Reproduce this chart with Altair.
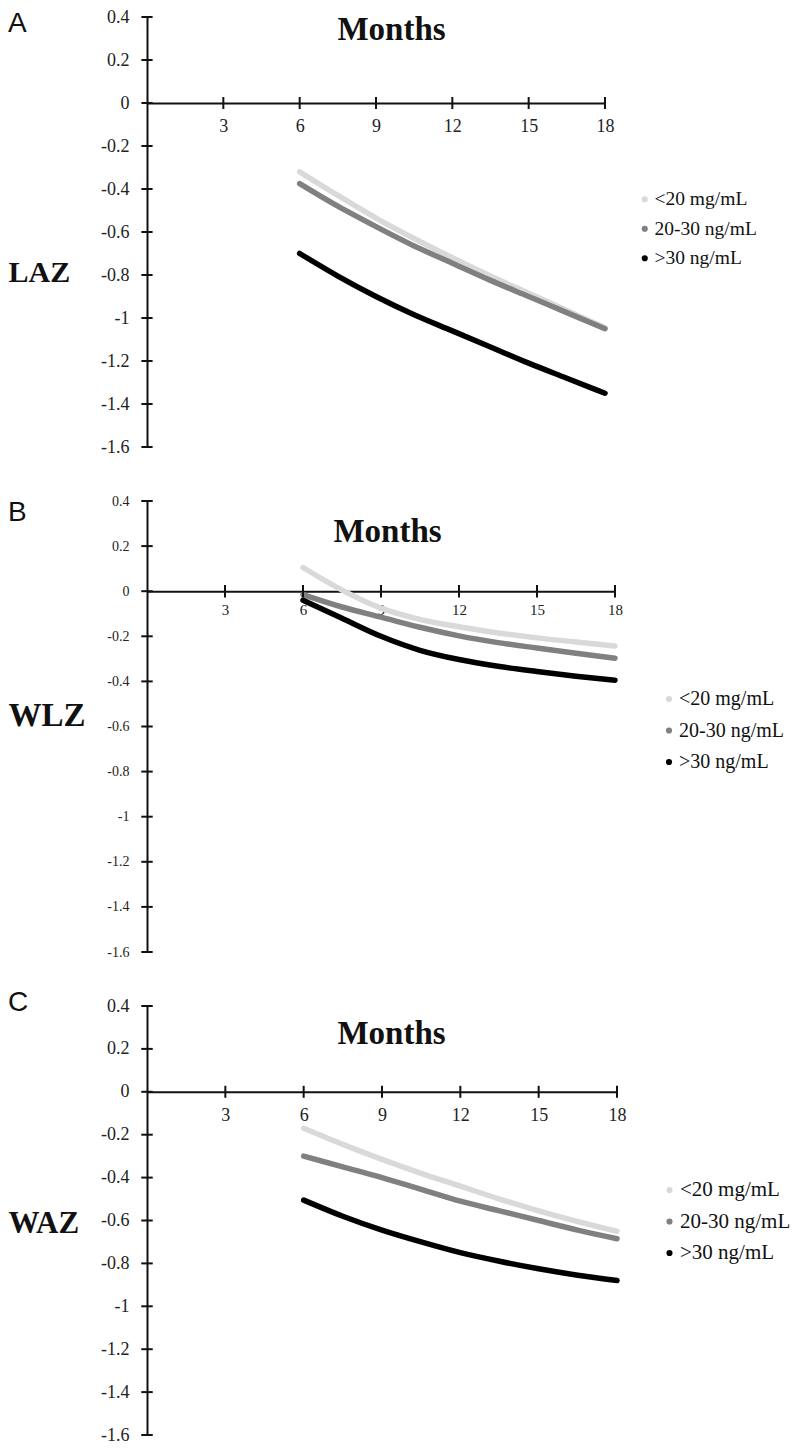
import altair as alt
import pandas as pd

SERIF = "Liberation Serif"
SANS = "Liberation Sans"

months = [6, 7.5, 9, 10.5, 12, 13.5, 15, 16.5, 18]
groups = ["<20 mg/mL", "20-30 ng/mL", ">30 ng/mL"]
colors = ["#d9d9d9", "#808080", "#000000"]
x_ticks = [3, 6, 9, 12, 15, 18]
y_ticks = [0.4, 0.2, 0, -0.2, -0.4, -0.6, -0.8, -1, -1.2, -1.4, -1.6]

# Panel A: LAZ
laz_low = [-0.32, -0.43, -0.535, -0.63, -0.72, -0.805, -0.885, -0.965, -1.045]
laz_mid = [-0.375, -0.48, -0.575, -0.665, -0.745, -0.825, -0.90, -0.975, -1.05]
laz_high = [-0.70, -0.805, -0.90, -0.985, -1.06, -1.135, -1.21, -1.28, -1.35]

# Panel B: WLZ
wlz_low = [0.105, 0.005, -0.075, -0.125, -0.158, -0.185, -0.207, -0.225, -0.243]
wlz_mid = [-0.015, -0.07, -0.115, -0.16, -0.198, -0.228, -0.252, -0.275, -0.297]
wlz_high = [-0.04, -0.12, -0.20, -0.262, -0.303, -0.333, -0.356, -0.377, -0.395]

# Panel C: WAZ
waz_low = [-0.17, -0.245, -0.315, -0.38, -0.44, -0.50, -0.555, -0.605, -0.65]
waz_mid = [-0.30, -0.35, -0.40, -0.455, -0.51, -0.555, -0.60, -0.645, -0.685]
waz_high = [-0.505, -0.58, -0.645, -0.70, -0.75, -0.79, -0.825, -0.855, -0.88]


def panel(letter, measure, series, c):
    W, H = c["w"], c["h"]
    rows = []
    for g, vals in zip(groups, series):
        for m, v in zip(months, vals):
            rows.append({"month": m, "z": v, "group": g})
    df = pd.DataFrame(rows)

    xs = alt.Scale(domain=[0, 18], nice=False, zero=False)
    ys = alt.Scale(domain=[-1.6, 0.4], nice=False, zero=False)
    axis_y0 = 0.2 * H  # pixel position of y=0 from top

    x_axis = alt.Axis(
        values=x_ticks, orient="bottom", offset=-(H - axis_y0),
        ticks=False, grid=False, domainColor="#111", domainWidth=2,
        labelFont=SERIF, labelFontSize=c["xfs"], labelColor="#222",
        labelPadding=c["xpad"], labelFlush=False, labelOverlap=False,
        title="Months", titleFont=SERIF, titleFontWeight="bold",
        titleFontSize=c["mfs"], titleColor="#111", titleAlign="center",
        titleBaseline="alphabetic", titleX=c["mx"], titleY=c["my"] - axis_y0,
    )
    y_axis = alt.Axis(
        values=y_ticks, labelExpr="datum.value + ''", ticks=False,
        grid=False, domainColor="#111", domainWidth=2,
        labelFont=SERIF, labelFontSize=c["yfs"], labelColor="#222",
        labelPadding=c["ypad"], labelFlush=False, labelOverlap=False,
        title=measure, titleAngle=0, titleFont=SERIF, titleFontWeight="bold",
        titleFontSize=c["tfs"], titleColor="#111", titleAlign="left",
        titleBaseline="alphabetic", titleX=-139, titleY=c["ty"],
    )

    lines = alt.Chart(df).mark_line(
        strokeWidth=5.5, strokeCap="round", interpolate="monotone"
    ).encode(
        x=alt.X("month:Q", scale=xs, axis=x_axis),
        y=alt.Y("z:Q", scale=ys, axis=y_axis),
        color=alt.Color("group:N", scale=alt.Scale(domain=groups, range=colors),
                        legend=alt.Legend(
                            title=None, orient="none", legendX=c["lx"], legendY=c["ly"],
                            symbolType="circle", symbolSize=10, symbolStrokeWidth=3,
                            labelFont=SERIF, labelFontSize=c["lfs"], labelColor="#111",
                            rowPadding=c["lrp"], labelOffset=c["lo"], padding=0)),
        order="month:Q",
    )

    xt = alt.Chart(pd.DataFrame({"month": x_ticks})).mark_rule(
        strokeWidth=2, color="#111"
    ).encode(x=alt.X("month:Q", scale=xs, axis=x_axis),
             y=alt.datum(-0.028), y2=alt.datum(0.028))

    yt = alt.Chart(pd.DataFrame({"z": y_ticks})).mark_rule(
        strokeWidth=2, color="#111"
    ).encode(y=alt.Y("z:Q", scale=ys, axis=y_axis),
             x=alt.datum(-0.22), x2=alt.datum(0.22))

    lab = alt.Chart(pd.DataFrame({"t": [letter]})).mark_text(
        font=SANS, fontSize=28, align="left", baseline="alphabetic", color="#111"
    ).encode(x=alt.value(-139), y=alt.value(c["ay"]), text="t:N")

    return alt.layer(lines, xt, yt, lab).properties(width=W, height=H)


cfgA = dict(w=458, h=430, xfs=18, xpad=14, mfs=33, mx=244, my=22, yfs=18, ypad=18,
            tfs=30, ty=264, lx=488, ly=172.5, lfs=19.5, lrp=8.5, lo=0, ay=15)
cfgB = dict(w=468, h=451, xfs=15, xpad=11, mfs=33, mx=240, my=40, yfs=14, ypad=18,
            tfs=33, ty=224, lx=512, ly=188, lfs=20, lrp=11.5, lo=0, ay=20)
cfgC = dict(w=470, h=429, xfs=18, xpad=15, mfs=33, mx=244, my=37, yfs=18, ypad=18,
            tfs=31, ty=226, lx=512, ly=173.5, lfs=21, lrp=9.5, lo=0, ay=5)

pA = panel("A", "LAZ", [laz_low, laz_mid, laz_high], cfgA)
pB = panel("B", "WLZ", [wlz_low, wlz_mid, wlz_high], cfgB)
pC = panel("C", "WAZ", [waz_low, waz_mid, waz_high], cfgC)

chart = alt.vconcat(pA, pB, pC, spacing=54, bounds="flush").resolve_scale(
    color="independent"
).properties(
    padding=0,
    background="white",
).configure_view(stroke=None)

chart.save("out.html", embed_options={"renderer": "svg", "actions": False})
